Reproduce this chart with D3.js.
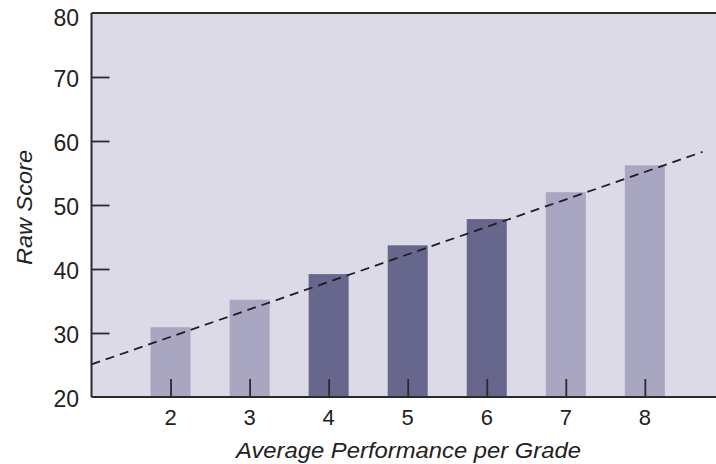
<!DOCTYPE html>
<html>
<head>
<meta charset="utf-8">
<script src="https://cdn.jsdelivr.net/npm/d3@7"></script>
<style>
  body { margin: 0; background: #fff; }
  text { font-family: "Liberation Sans", Arial, Helvetica, sans-serif; fill: #222; }
</style>
</head>
<body>
<svg id="drawing_region"></svg>
<script>
var grades = [2, 3, 4, 5, 6, 7, 8];
var scores = [30.9, 35.2, 39.2, 43.7, 47.8, 52.0, 56.2];
var highlighted = [4, 5, 6];
var trendX = [1, 8.73];
var trendY = [25.1, 58.3];
var yTicks = [20, 30, 40, 50, 60, 70, 80];

var width = 716;
var height = 464;
var margin = {top: 13, right: 0, bottom: 67, left: 91.5};

var svg = d3.select('#drawing_region')
    .attr('width', width)
    .attr('height', height);

var xscale = d3.scaleLinear()
    .domain([1, 8.9])
    .range([margin.left, width - margin.right]);

var yscale = d3.scaleLinear()
    .domain([20, 80])
    .range([height - margin.bottom, margin.top]);

// plot background
svg.append('rect')
    .attr('x', margin.left)
    .attr('y', margin.top)
    .attr('width', width - margin.left)
    .attr('height', yscale(20) - yscale(80))
    .attr('fill', '#dcdae6');

// bars
var barW = 40;
svg.selectAll('rect.bar')
    .data(grades)
    .join('rect')
    .attr('class', 'bar')
    .attr('x', d => xscale(d) - barW / 2)
    .attr('y', (d, i) => yscale(scores[i]))
    .attr('width', barW)
    .attr('height', (d, i) => yscale(20) - yscale(scores[i]))
    .attr('fill', d => highlighted.includes(d) ? '#67668c' : '#a8a6c1');

// trend line
var line = d3.line()
    .x(d => xscale(d[0]))
    .y(d => yscale(d[1]));
svg.append('path')
    .datum(d3.zip(trendX, trendY))
    .attr('d', line)
    .attr('fill', 'none')
    .attr('stroke', '#1e1e1e')
    .attr('stroke-width', 1.8)
    .attr('stroke-dasharray', '9,6');

// axes (ticks drawn inward)
var yaxis = d3.axisRight(yscale)
    .tickValues(yTicks.slice(1, -1))
    .tickSize(18)
    .tickFormat('');
var ygroup = svg.append('g')
    .attr('transform', `translate(${margin.left},0)`)
    .call(yaxis);
ygroup.select('.domain').remove();
ygroup.selectAll('line').attr('stroke', '#2a2a2a').attr('stroke-width', 1.8);

var xaxis = d3.axisTop(xscale)
    .tickValues(grades)
    .tickSize(18)
    .tickFormat('');
var xgroup = svg.append('g')
    .attr('transform', `translate(0,${yscale(20)})`)
    .call(xaxis);
xgroup.select('.domain').remove();
xgroup.selectAll('line').attr('stroke', '#2a2a2a').attr('stroke-width', 1.8);

// frame lines: left, bottom, top
svg.append('line')
    .attr('x1', margin.left).attr('x2', margin.left)
    .attr('y1', yscale(80)).attr('y2', yscale(20))
    .attr('stroke', '#2a2a2a').attr('stroke-width', 2);
svg.append('line')
    .attr('x1', margin.left).attr('x2', width)
    .attr('y1', yscale(20)).attr('y2', yscale(20))
    .attr('stroke', '#2a2a2a').attr('stroke-width', 2);
svg.append('line')
    .attr('x1', margin.left).attr('x2', width)
    .attr('y1', yscale(80)).attr('y2', yscale(80))
    .attr('stroke', '#2a2a2a').attr('stroke-width', 2);

// tick labels
svg.selectAll('text.ylab')
    .data(yTicks)
    .join('text')
    .attr('class', 'ylab')
    .attr('x', 79)
    .attr('y', d => Math.max(yscale(d) + 1.5, 18))
    .attr('dy', '0.36em')
    .attr('text-anchor', 'end')
    .style('font-size', '23px')
    .text(d => d);

svg.selectAll('text.xlab')
    .data(grades)
    .join('text')
    .attr('class', 'xlab')
    .attr('x', d => xscale(d))
    .attr('y', 424.5)
    .attr('text-anchor', 'middle')
    .style('font-size', '22px')
    .text(d => d);

// axis titles
svg.append('text')
    .attr('x', 236)
    .attr('y', 458)
    .attr('textLength', 345)
    .attr('lengthAdjust', 'spacingAndGlyphs')
    .style('font-size', '22.5px')
    .style('font-style', 'italic')
    .text('Average Performance per Grade');

svg.append('text')
    .attr('transform', 'translate(32,265) rotate(-90)')
    .attr('textLength', 115)
    .attr('lengthAdjust', 'spacingAndGlyphs')
    .style('font-size', '22px')
    .style('font-style', 'italic')
    .text('Raw Score');
</script>
</body>
</html>
